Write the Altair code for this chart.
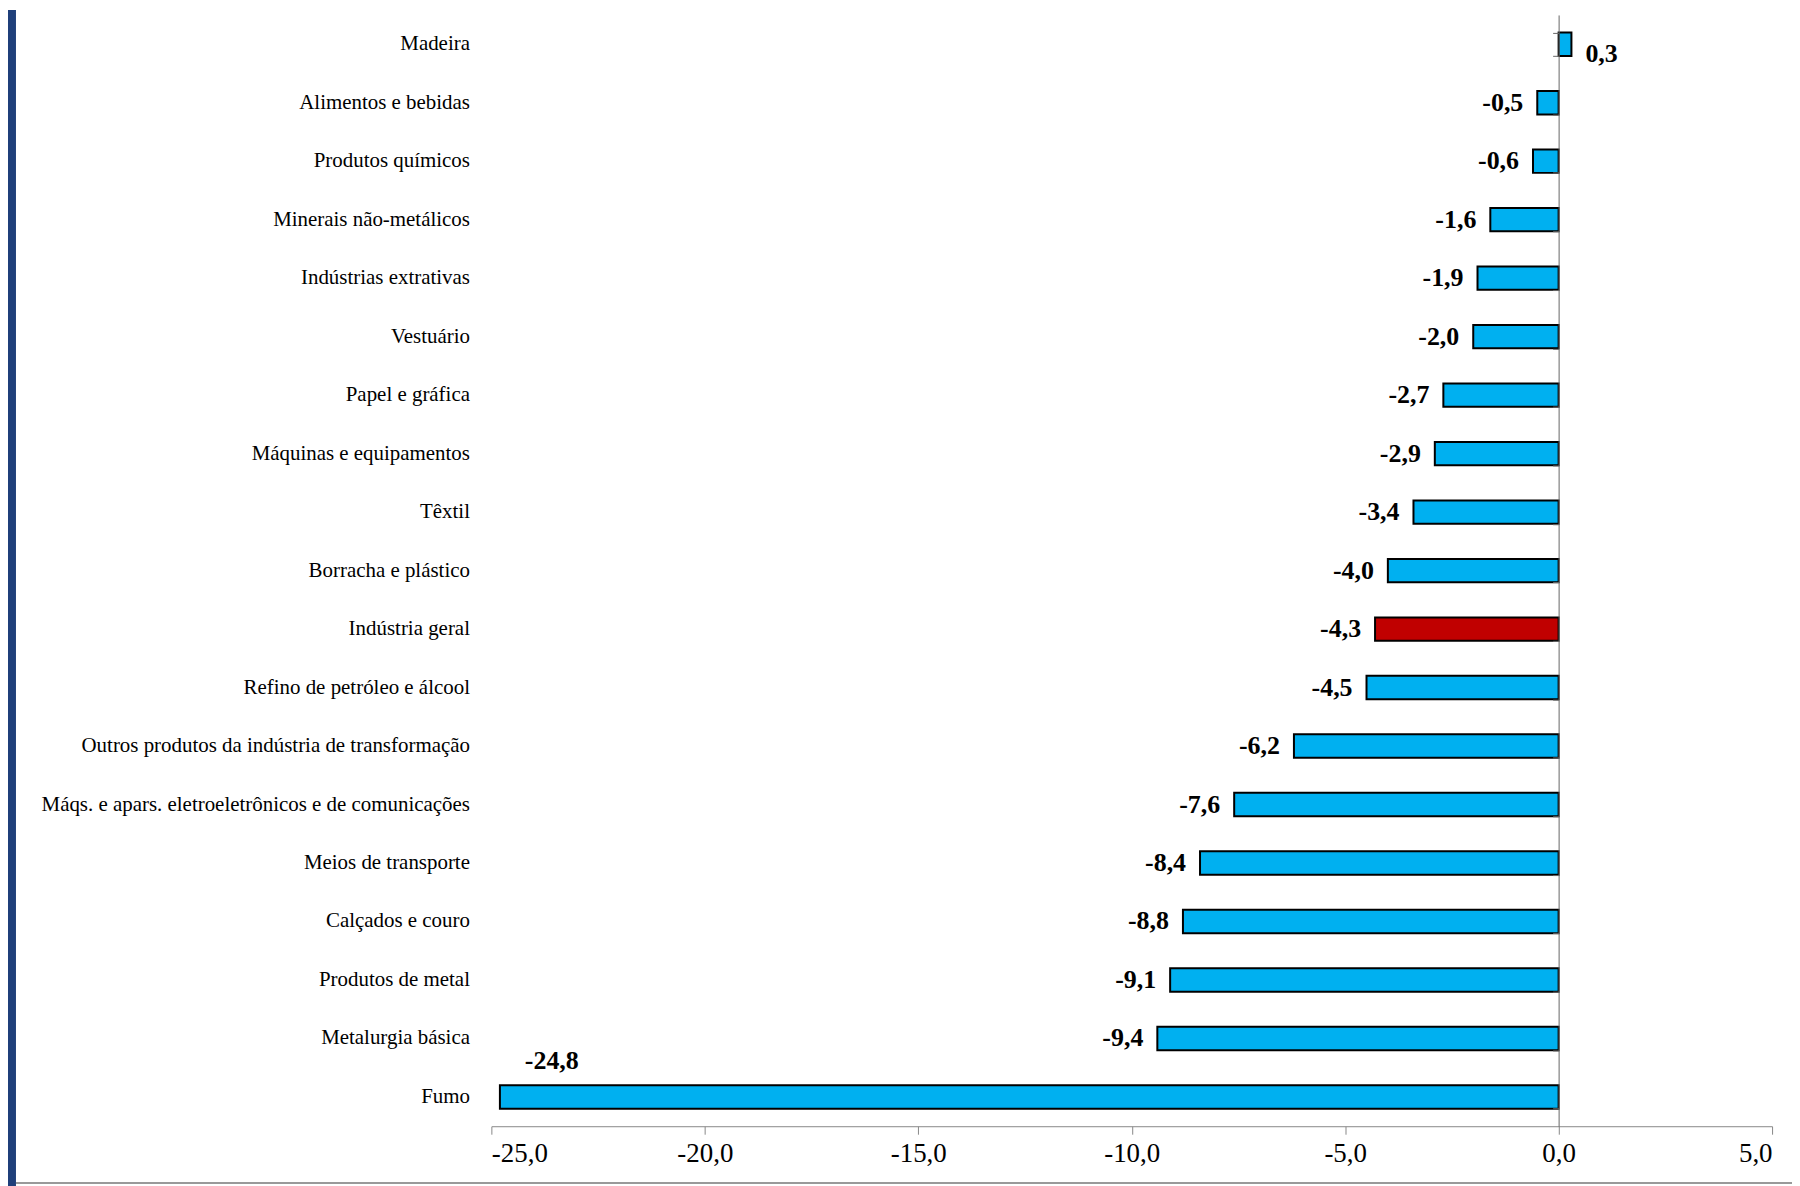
import pandas as pd
import altair as alt

categories = [
    "Madeira", "Alimentos e bebidas", "Produtos químicos", "Minerais não-metálicos",
    "Indústrias extrativas", "Vestuário", "Papel e gráfica", "Máquinas e equipamentos",
    "Têxtil", "Borracha e plástico", "Indústria geral", "Refino de petróleo e álcool",
    "Outros produtos da indústria de transformação",
    "Máqs. e apars. eletroeletrônicos e de comunicações",
    "Meios de transporte", "Calçados e couro", "Produtos de metal",
    "Metalurgia básica", "Fumo",
]
values = [0.3, -0.5, -0.6, -1.6, -1.9, -2.0, -2.7, -2.9, -3.4, -4.0, -4.3, -4.5,
          -6.2, -7.6, -8.4, -8.8, -9.1, -9.4, -24.8]
x_ticks = [-25, -20, -15, -10, -5, 0, 5]

df = pd.DataFrame({"setor": categories, "valor": values})
df["label"] = df["valor"].map(lambda v: f"{v:.1f}".replace(".", ","))
df["cor"] = ["#C00000" if c == "Indústria geral" else "#00B0F0" for c in categories]

FONT = "Liberation Serif"
W, H = 1285, 1115

y_scale = alt.Scale(paddingInner=0.6, paddingOuter=0.3)
x_scale = alt.Scale(domain=[-25, 5], nice=False)

bars = alt.Chart(df).mark_bar(stroke="black", strokeWidth=2).encode(
    x=alt.X("valor:Q", scale=x_scale, axis=alt.Axis(
        values=x_ticks, title=None, grid=False, labelFont=FONT,
        labelFontSize=27, labelColor="black", domainColor="#888", tickColor="#888",
        tickSize=8, labelPadding=6,
        labelExpr="(datum.value < 0 ? '-' : '') + replace(format(abs(datum.value), '.1f'), '.', ',')")),
    x2=alt.datum(0),
    y=alt.Y("setor:N", sort=categories, scale=y_scale,
            axis=alt.Axis(title=None, domain=False, ticks=False, labelFont=FONT, labelFontSize=21,
                          labelColor="black", labelLimit=600, labelPadding=22)),
    color=alt.Color("cor:N", scale=None),
)

zero_axis = alt.Chart(df).mark_tick(opacity=0).encode(
    y=alt.Y("setor:N", sort=categories, scale=y_scale,
            axis=alt.Axis(orient="left", offset=-(W * 25 / 30), labels=False, title=None,
                          domainColor="#666", tickColor="#666", tickSize=6, tickBand="extent",
                          zindex=1)),
    x=alt.X("valor:Q", scale=x_scale),
)

base = alt.Chart(df).encode(
    x=alt.X("valor:Q", scale=x_scale),
    y=alt.Y("setor:N", sort=categories, scale=y_scale, axis=None),
    text="label:N",
)
txt_props = dict(font=FONT, fontSize=26, fontWeight="bold", color="black")
neg = base.transform_filter("datum.valor < 0 && datum.valor > -20").mark_text(
    align="right", dx=-14, **txt_props)
pos = base.transform_filter("datum.valor > 0").mark_text(align="left", dx=14, dy=10, **txt_props)
fumo = base.transform_filter("datum.valor < -20").mark_text(align="left", dx=25, dy=-36, **txt_props)

frame = alt.Chart(pd.DataFrame({"a": [0]})).mark_rect(color="#1F3F7A").encode(
    x=alt.value(-485), x2=alt.value(-477), y=alt.value(-5), y2=alt.value(1180))
bottom = alt.Chart(pd.DataFrame({"a": [0]})).mark_rule(color="#999", strokeWidth=2).encode(
    x=alt.value(-477), x2=alt.value(W + 20), y=alt.value(1172))

chart = alt.layer(bars, zero_axis, neg, pos, fumo, frame, bottom).resolve_axis(
    y="independent").properties(
    width=W, height=H,
    autosize=alt.AutoSizeParams(type="none"),
    padding={"left": 485, "top": 5, "right": 20, "bottom": 60},
).configure_view(stroke=None)

chart.save("out.html", embed_options={"renderer": "svg", "actions": False})
